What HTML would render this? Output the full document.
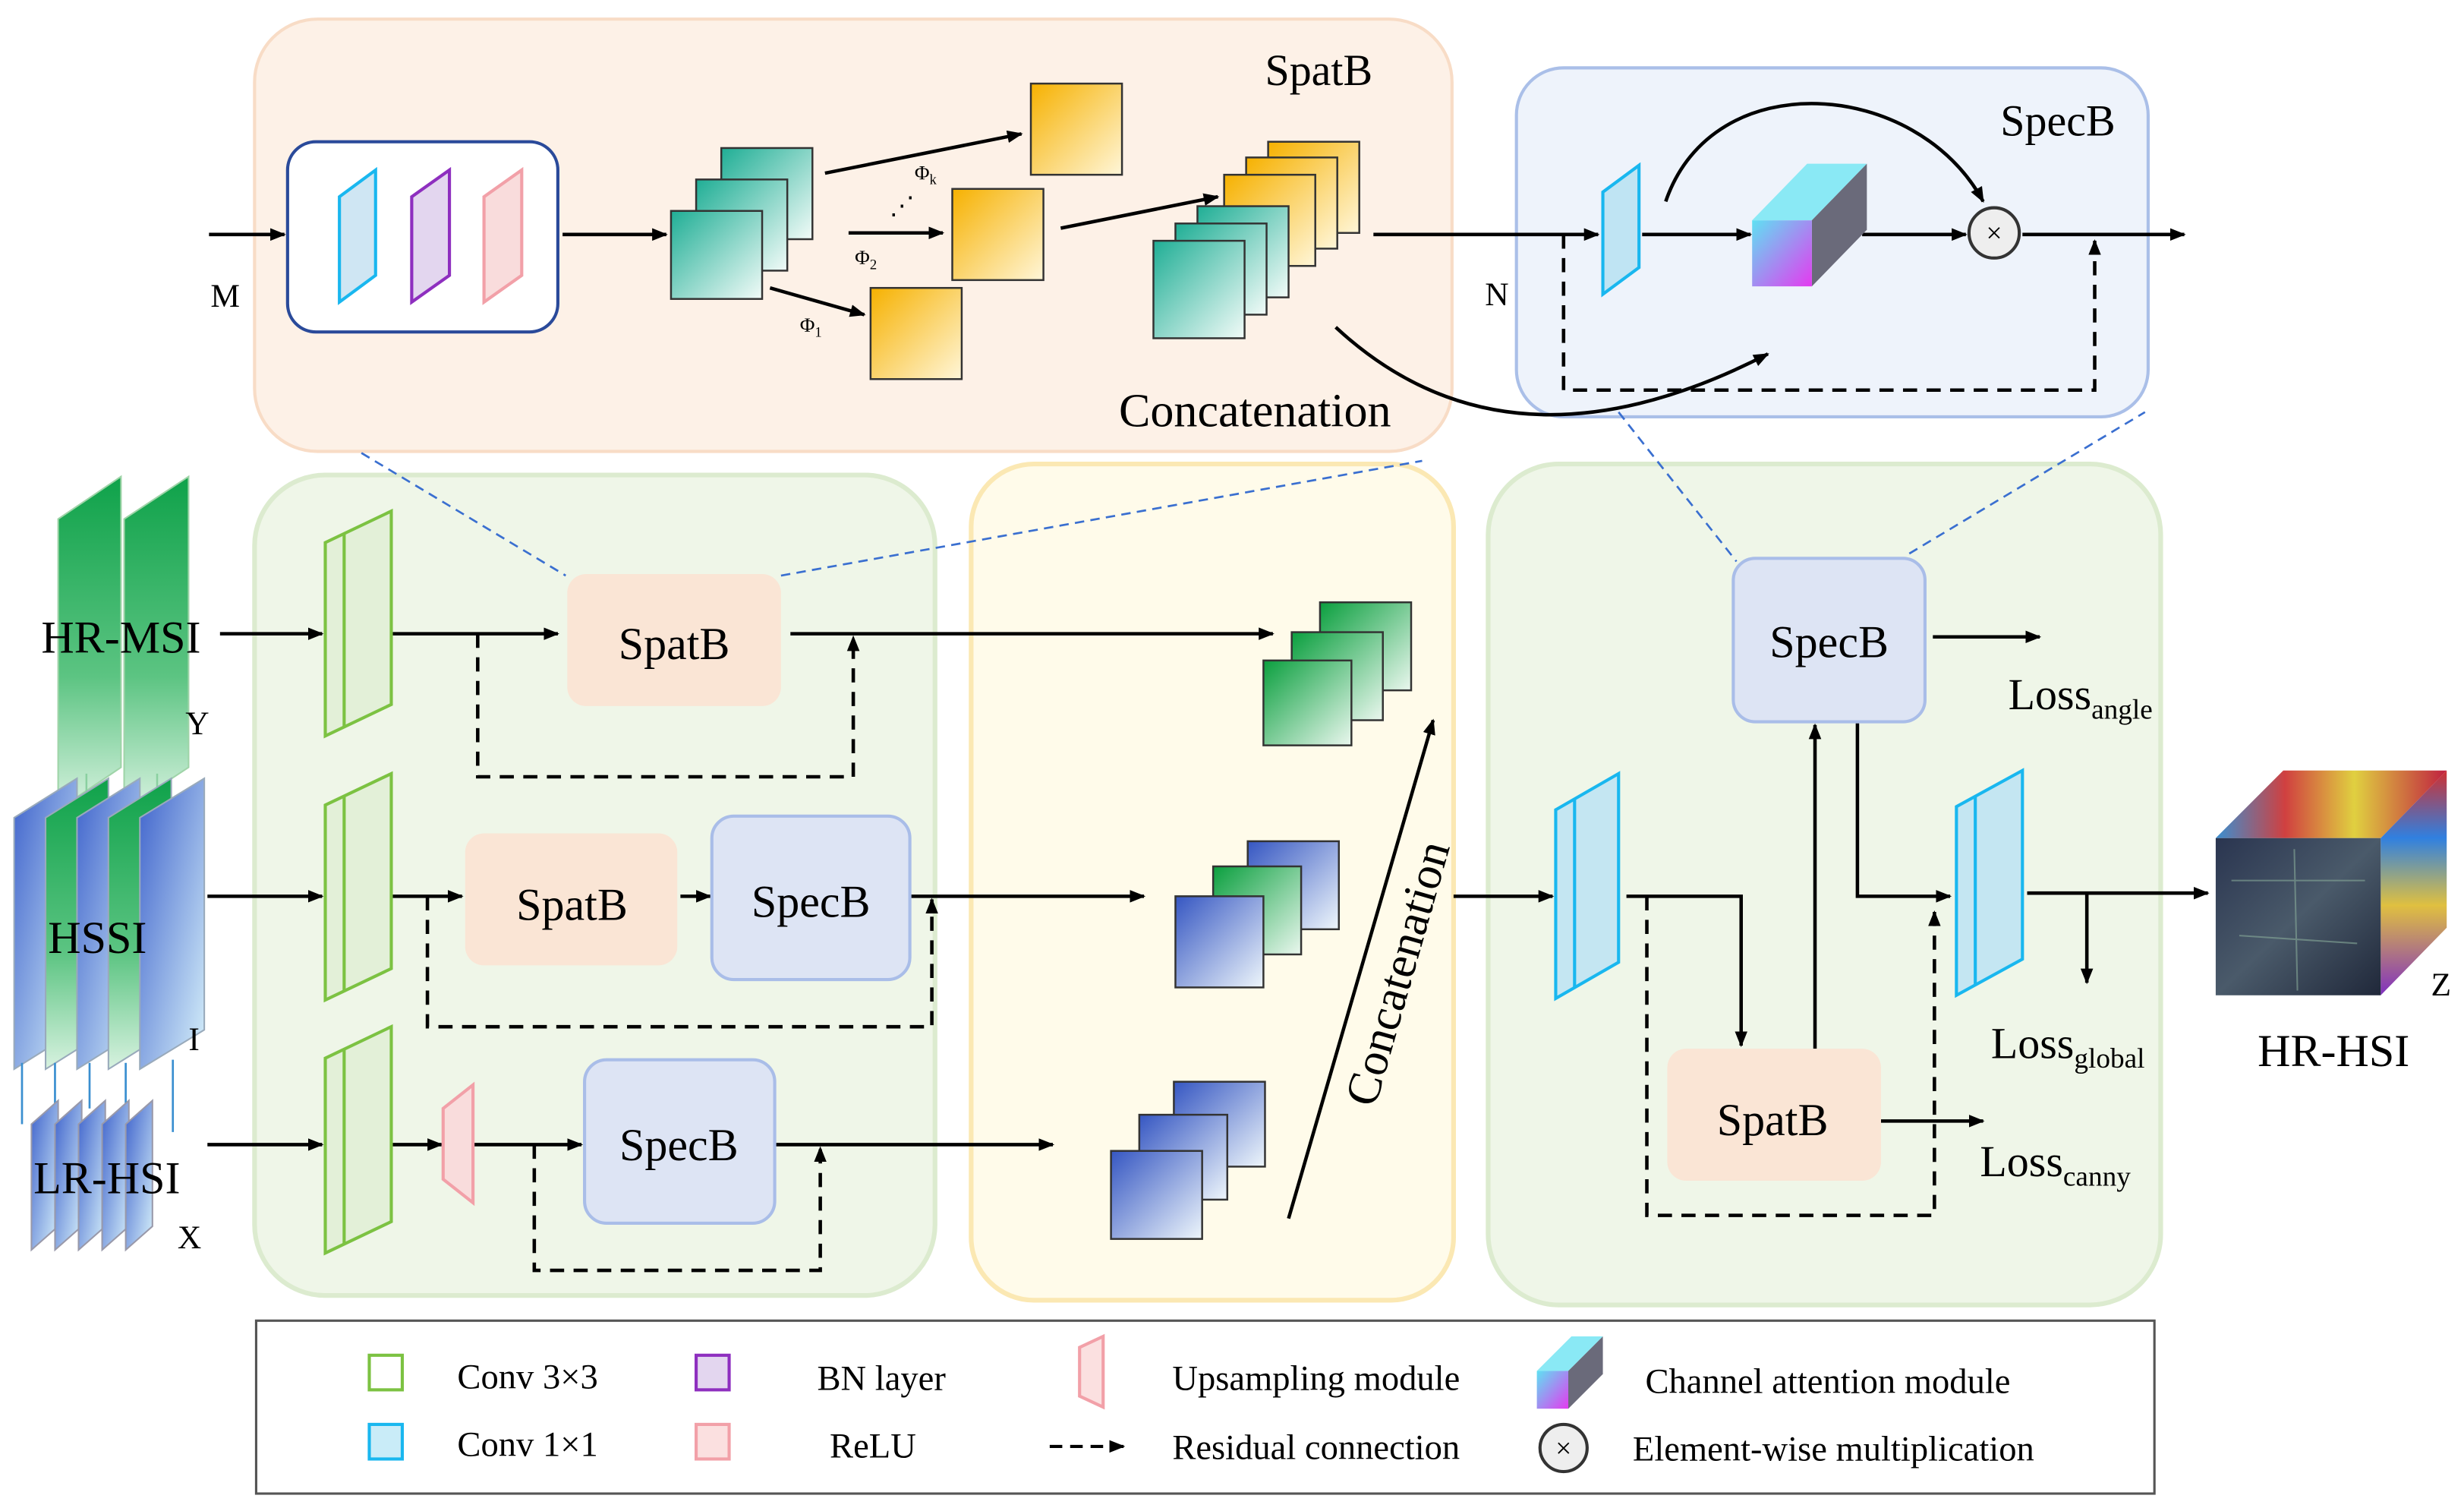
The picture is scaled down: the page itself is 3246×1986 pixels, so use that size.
<!DOCTYPE html>
<html><head><meta charset="utf-8"><style>html,body{margin:0;padding:0;background:#fff}svg{display:block}</style></head><body>
<svg width="3246" height="1986" viewBox="0 0 1568 959" xmlns="http://www.w3.org/2000/svg" font-family="Liberation Serif, serif">
<defs>
<marker id="ar" markerWidth="10" markerHeight="10" refX="9" refY="5" orient="auto" markerUnits="userSpaceOnUse"><path d="M0,1 L10,5 L0,9 z" fill="#000"/></marker>
<linearGradient id="teal" x1="0" y1="0" x2="1" y2="1"><stop offset="0" stop-color="#1fae95"/><stop offset="1" stop-color="#f2fbf8"/></linearGradient>
<linearGradient id="grn" x1="0" y1="0" x2="1" y2="1"><stop offset="0" stop-color="#0a9f3e"/><stop offset="1" stop-color="#eaf7ee"/></linearGradient>
<linearGradient id="blu" x1="0" y1="0" x2="1" y2="1"><stop offset="0" stop-color="#3556c2"/><stop offset="1" stop-color="#eef6fb"/></linearGradient>
<linearGradient id="gold" x1="0" y1="0" x2="1" y2="1"><stop offset="0" stop-color="#f6b100"/><stop offset="1" stop-color="#fff6d8"/></linearGradient>
<linearGradient id="gslab" x1="0" y1="0" x2="0" y2="1"><stop offset="0" stop-color="#0fa24a"/><stop offset=".6" stop-color="#5cc482"/><stop offset="1" stop-color="#d8f2e0"/></linearGradient>
<linearGradient id="bslab" x1="0" y1="0" x2="1" y2="1"><stop offset="0" stop-color="#3f63cc"/><stop offset="1" stop-color="#d6f0fa"/></linearGradient>
<linearGradient id="ca" x1="0" y1="0" x2="1" y2="1"><stop offset="0" stop-color="#5fe1f2"/><stop offset="1" stop-color="#e43af0"/></linearGradient>
<linearGradient id="hsi" x1="0" y1="0" x2="1" y2="1"><stop offset="0" stop-color="#2a3550"/><stop offset=".5" stop-color="#4a5a6a"/><stop offset="1" stop-color="#20283a"/></linearGradient>
<linearGradient id="hsit" x1="0" y1="0" x2="1" y2="0"><stop offset="0" stop-color="#3a8fd0"/><stop offset=".3" stop-color="#d04040"/><stop offset=".6" stop-color="#e0d040"/><stop offset="1" stop-color="#c02040"/></linearGradient>
<linearGradient id="hsis" x1="0" y1="0" x2="0" y2="1"><stop offset="0" stop-color="#d03030"/><stop offset=".3" stop-color="#3080e0"/><stop offset=".6" stop-color="#e0c040"/><stop offset="1" stop-color="#8030c0"/></linearGradient>
</defs>

<rect x="162" y="12" width="762" height="275" rx="40" fill="#fdf1e7" stroke="#f8dcc6" stroke-width="2"/>
<rect x="965" y="43" width="402" height="222" rx="30" fill="#eef3fb" stroke="#aabfe8" stroke-width="2"/>
<rect x="162" y="302" width="433" height="522" rx="45" fill="#eff6e8" stroke="#dcebcf" stroke-width="3"/>
<rect x="618" y="295" width="307" height="532" rx="40" fill="#fffbea" stroke="#fbe8b3" stroke-width="3"/>
<rect x="947" y="295" width="428" height="535" rx="45" fill="#eff6e8" stroke="#dcebcf" stroke-width="3"/>

<g stroke="#3a6fd0" stroke-width="1.3" stroke-dasharray="6,4" fill="none">
<line x1="230" y1="288" x2="360" y2="366"/><line x1="497" y1="366" x2="905" y2="293"/>
<line x1="1030" y1="262" x2="1105" y2="357"/><line x1="1215" y1="352" x2="1365" y2="262"/>
</g>

<g stroke="#000" stroke-width="2.2" fill="none">
<line x1="133" y1="149" x2="181" y2="149" marker-end="url(#ar)"/>
<line x1="358" y1="149" x2="424" y2="149" marker-end="url(#ar)"/>
<line x1="525" y1="110" x2="650" y2="85" marker-end="url(#ar)"/>
<line x1="540" y1="148" x2="600" y2="148" marker-end="url(#ar)"/>
<line x1="490" y1="183" x2="550" y2="200" marker-end="url(#ar)"/>
<line x1="675" y1="145" x2="775" y2="125" marker-end="url(#ar)"/>
<line x1="874" y1="149" x2="1017" y2="149" marker-end="url(#ar)"/>
<path d="M850,208 Q960,310 1125,225" marker-end="url(#ar)"/>
<line x1="1045" y1="149" x2="1114" y2="149" marker-end="url(#ar)"/>
<line x1="1185" y1="149" x2="1251" y2="149" marker-end="url(#ar)"/>
<line x1="1287" y1="149" x2="1390" y2="149" marker-end="url(#ar)"/>
<path d="M1060,128 C1090,40 1220,50 1262,128" marker-end="url(#ar)"/>
</g>
<g stroke="#000" stroke-width="2.2" fill="none" stroke-dasharray="9,6">
<path d="M995,149 V248 H1333 V153" marker-end="url(#ar)"/>
<path d="M304,403 V494 H543 V405" marker-end="url(#ar)"/>
<path d="M272,570 V653 H593 V572" marker-end="url(#ar)"/>
<path d="M340,728 V808 H522 V730" marker-end="url(#ar)"/>
<path d="M1048,570 V773 H1231 V580" marker-end="url(#ar)"/>
</g>

<rect x="183" y="90" width="172" height="121" rx="18" fill="#fff" stroke="#2a4a9a" stroke-width="2"/>
<polygon points="216,125 239,108 239,175 216,192" fill="#cfe6f3" stroke="#19b7ef" stroke-width="2"/>
<polygon points="262,125 286,108 286,175 262,192" fill="#e3d6ef" stroke="#8e2fbf" stroke-width="2"/>
<polygon points="308,125 332,108 332,175 308,192" fill="#f9dcdc" stroke="#f2a0a8" stroke-width="2"/>
<g stroke="#333" stroke-width="1.2">
<rect x="459" y="94" width="58" height="58" fill="url(#teal)"/>
<rect x="443" y="114" width="58" height="58" fill="url(#teal)"/>
<rect x="427" y="134" width="58" height="56" fill="url(#teal)"/>
<rect x="656" y="53" width="58" height="58" fill="url(#gold)"/>
<rect x="606" y="120" width="58" height="58" fill="url(#gold)"/>
<rect x="554" y="183" width="58" height="58" fill="url(#gold)"/>
<rect x="807" y="90" width="58" height="58" fill="url(#gold)"/>
<rect x="793" y="100" width="58" height="58" fill="url(#gold)"/>
<rect x="779" y="111" width="58" height="58" fill="url(#gold)"/>
<rect x="762" y="131" width="58" height="58" fill="url(#teal)"/>
<rect x="748" y="142" width="58" height="58" fill="url(#teal)"/>
<rect x="734" y="153" width="58" height="62" fill="url(#teal)"/>
</g>
<text x="582" y="114" font-size="13">Φ<tspan font-size="9" dy="3">k</tspan></text>
<text x="566" y="136" font-size="16">⋰</text>
<text x="544" y="168" font-size="13">Φ<tspan font-size="9" dy="3">2</tspan></text>
<text x="509" y="211" font-size="13">Φ<tspan font-size="9" dy="3">1</tspan></text>
<text x="134" y="195" font-size="21">M</text>
<text x="945" y="194" font-size="21">N</text>
<text x="805" y="54" font-size="28">SpatB</text>
<text x="712" y="271" font-size="30">Concatenation</text>

<polygon points="1020,122 1043,105 1043,170 1020,187" fill="#bfe4f3" stroke="#19b7ef" stroke-width="2"/>
<polygon points="1115,140 1150,104 1188,104 1153,140" fill="#8ae9f5"/>
<polygon points="1153,140 1188,104 1188,146 1153,182" fill="#6a6a7a"/>
<rect x="1115" y="140" width="38" height="42" fill="url(#ca)"/>
<circle cx="1269" cy="148" r="16" fill="#eee" stroke="#333" stroke-width="2"/>
<text x="1269" y="154" font-size="18" text-anchor="middle">×</text>
<text x="1273" y="86" font-size="28">SpecB</text>

<polygon points="37,330 77,303 77,488 37,515" fill="url(#gslab)" stroke="#9fd4a8"/>
<polygon points="79,330 120,303 120,488 79,515" fill="url(#gslab)" stroke="#9fd4a8"/>
<g stroke="#8ad0a0" stroke-width="1.2"><line x1="55" y1="492" x2="55" y2="512"/><line x1="100" y1="492" x2="100" y2="512"/></g>
<polygon points="9,520 49,495 49,655 9,680" fill="url(#bslab)" stroke="#9ab"/>
<polygon points="29,520 69,495 69,655 29,680" fill="url(#gslab)" stroke="#9ab"/>
<polygon points="49,520 89,495 89,655 49,680" fill="url(#bslab)" stroke="#9ab"/>
<polygon points="69,520 109,495 109,655 69,680" fill="url(#gslab)" stroke="#9ab"/>
<polygon points="89,520 130,495 130,655 89,680" fill="url(#bslab)" stroke="#9ab"/>
<g stroke="#3a8fd0" stroke-width="1.3" fill="none">
<line x1="14" y1="715" x2="14" y2="676"/><line x1="35" y1="705" x2="35" y2="676"/><line x1="57" y1="705" x2="57" y2="676"/><line x1="80" y1="705" x2="80" y2="676"/><line x1="110" y1="720" x2="110" y2="674"/>
</g>
<g stroke="#99a" fill="url(#bslab)">
<polygon points="20,715 37,700 37,780 20,795"/><polygon points="35,715 52,700 52,780 35,795"/><polygon points="50,715 67,700 67,780 50,795"/><polygon points="65,715 82,700 82,780 65,795"/><polygon points="80,715 97,700 97,780 80,795"/>
</g>
<text x="77" y="415" font-size="29" text-anchor="middle">HR-MSI</text>
<text x="118" y="467" font-size="21">Y</text>
<text x="62" y="606" font-size="29" text-anchor="middle">HSSI</text>
<text x="120" y="668" font-size="21">I</text>
<text x="68" y="759" font-size="29" text-anchor="middle">LR-HSI</text>
<text x="113" y="794" font-size="21">X</text>

<g stroke="#000" stroke-width="2.2" fill="none">
<line x1="140" y1="403" x2="205" y2="403" marker-end="url(#ar)"/>
<line x1="235" y1="403" x2="355" y2="403" marker-end="url(#ar)"/>
<line x1="503" y1="403" x2="810" y2="403" marker-end="url(#ar)"/>
<line x1="132" y1="570" x2="205" y2="570" marker-end="url(#ar)"/>
<line x1="235" y1="570" x2="294" y2="570" marker-end="url(#ar)"/>
<line x1="433" y1="570" x2="452" y2="570" marker-end="url(#ar)"/>
<line x1="560" y1="570" x2="728" y2="570" marker-end="url(#ar)"/>
<line x1="132" y1="728" x2="205" y2="728" marker-end="url(#ar)"/>
<line x1="235" y1="728" x2="281" y2="728" marker-end="url(#ar)"/>
<line x1="301" y1="728" x2="370" y2="728" marker-end="url(#ar)"/>
<line x1="482" y1="728" x2="670" y2="728" marker-end="url(#ar)"/>
<line x1="820" y1="775" x2="912" y2="458" marker-end="url(#ar)"/>
<line x1="925" y1="570" x2="988" y2="570" marker-end="url(#ar)"/>
<path d="M1035,570 H1108 V665" marker-end="url(#ar)"/>
<line x1="1155" y1="667" x2="1155" y2="461" marker-end="url(#ar)"/>
<line x1="1230" y1="405" x2="1298" y2="405" marker-end="url(#ar)"/>
<path d="M1182,460 V570 H1241" marker-end="url(#ar)"/>
<line x1="1290" y1="568" x2="1405" y2="568" marker-end="url(#ar)"/>
<line x1="1328" y1="568" x2="1328" y2="625" marker-end="url(#ar)"/>
<line x1="1197" y1="713" x2="1262" y2="713" marker-end="url(#ar)"/>
</g>
<g fill="#e3f0d8" stroke="#7cc242" stroke-width="2">
<polygon points="207,345 249,325 249,448 207,468"/><line x1="219" y1="339" x2="219" y2="462"/>
<polygon points="207,512 249,492 249,616 207,636"/><line x1="219" y1="506" x2="219" y2="630"/>
<polygon points="207,673 249,653 249,777 207,797"/><line x1="219" y1="667" x2="219" y2="791"/>
</g>
<g fill="#c4e6f2" stroke="#19b7ef" stroke-width="2">
<polygon points="990,515 1030,492 1030,612 990,635"/><line x1="1002" y1="508" x2="1002" y2="628"/>
<polygon points="1245,513 1287,490 1287,610 1245,633"/><line x1="1257" y1="506" x2="1257" y2="626"/>
</g>
<polygon points="282,705 301,690 301,765 282,750" fill="#f9dcdc" stroke="#f2a0a8" stroke-width="2"/>

<rect x="361" y="365" width="136" height="84" rx="12" fill="#fae5d5"/>
<rect x="296" y="530" width="135" height="84" rx="12" fill="#fae5d5"/>
<rect x="453" y="519" width="126" height="104" rx="14" fill="#dde4f4" stroke="#a9bde8" stroke-width="2"/>
<rect x="372" y="674" width="121" height="104" rx="14" fill="#dde4f4" stroke="#a9bde8" stroke-width="2"/>
<rect x="1061" y="667" width="136" height="84" rx="12" fill="#fae5d5"/>
<rect x="1103" y="355" width="122" height="104" rx="14" fill="#dde4f4" stroke="#a9bde8" stroke-width="2"/>
<g font-size="29" text-anchor="middle">
<text x="429" y="419">SpatB</text><text x="364" y="585">SpatB</text><text x="516" y="583">SpecB</text>
<text x="432" y="738">SpecB</text><text x="1128" y="722">SpatB</text><text x="1164" y="418">SpecB</text>
</g>
<g stroke="#333" stroke-width="1.2">
<rect x="840" y="383" width="58" height="56" fill="url(#grn)"/><rect x="822" y="402" width="58" height="56" fill="url(#grn)"/><rect x="804" y="420" width="56" height="54" fill="url(#grn)"/>
<rect x="794" y="535" width="58" height="56" fill="url(#blu)"/><rect x="772" y="551" width="56" height="56" fill="url(#grn)"/><rect x="748" y="570" width="56" height="58" fill="url(#blu)"/>
<rect x="747" y="688" width="58" height="54" fill="url(#blu)"/><rect x="725" y="709" width="56" height="54" fill="url(#blu)"/><rect x="707" y="732" width="58" height="56" fill="url(#blu)"/>
</g>
<text x="0" y="0" font-size="30" transform="translate(875,705) rotate(-74)">Concatenation</text>
<text x="1278" y="451" font-size="28">Loss<tspan font-size="18" dy="6">angle</tspan></text>
<text x="1267" y="673" font-size="28">Loss<tspan font-size="18" dy="6">global</tspan></text>
<text x="1260" y="748" font-size="28">Loss<tspan font-size="18" dy="6">canny</tspan></text>

<polygon points="1410,533 1453,490 1557,490 1515,533" fill="url(#hsit)"/>
<polygon points="1515,533 1557,490 1557,590 1515,633" fill="url(#hsis)"/>
<rect x="1410" y="533" width="105" height="100" fill="url(#hsi)"/>
<g stroke="#8a9" stroke-width="1" opacity=".6"><line x1="1420" y1="560" x2="1505" y2="560"/><line x1="1425" y1="595" x2="1500" y2="600"/><line x1="1460" y1="540" x2="1462" y2="630"/></g>
<text x="1547" y="633" font-size="21">Z</text>
<text x="1485" y="678" font-size="29" text-anchor="middle">HR-HSI</text>

<rect x="163" y="840" width="1208" height="110" fill="#fff" stroke="#555" stroke-width="1.5"/>
<rect x="235" y="862" width="21" height="22" fill="#fff" stroke="#7cc242" stroke-width="2"/>
<rect x="235" y="906" width="21" height="22" fill="#c9ecf8" stroke="#19b7ef" stroke-width="2"/>
<rect x="443" y="862" width="21" height="22" fill="#e3d6ef" stroke="#8e2fbf" stroke-width="2"/>
<rect x="443" y="906" width="21" height="22" fill="#fbe0e0" stroke="#f2a0a8" stroke-width="2"/>
<polygon points="687,857 702,850 702,895 687,888" fill="#fbe0e0" stroke="#f2a0a8" stroke-width="2"/>
<line x1="668" y1="920" x2="715" y2="920" stroke="#000" stroke-width="2" stroke-dasharray="8,5" marker-end="url(#ar)"/>
<polygon points="978,872 1000,850 1020,850 998,872" fill="#8ae9f5"/>
<polygon points="998,872 1020,850 1020,874 998,896" fill="#6a6a7a"/>
<rect x="978" y="872" width="20" height="24" fill="url(#ca)"/>
<circle cx="995" cy="921" r="15" fill="#eee" stroke="#333" stroke-width="2"/>
<text x="995" y="927" font-size="18" text-anchor="middle">×</text>
<g font-size="22.5">
<text x="291" y="883">Conv 3×3</text><text x="291" y="926">Conv 1×1</text>
<text x="520" y="884">BN layer</text><text x="528" y="927">ReLU</text>
<text x="746" y="884">Upsampling module</text><text x="746" y="928">Residual connection</text>
<text x="1047" y="886">Channel attention module</text><text x="1039" y="929">Element-wise multiplication</text>
</g>
</svg>
</body></html>
